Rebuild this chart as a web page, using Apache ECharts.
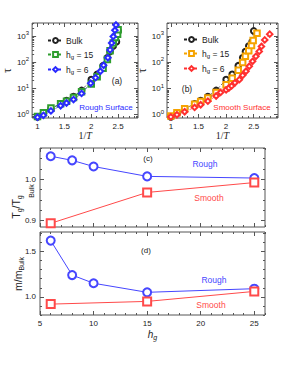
<!DOCTYPE html>
<html><head><meta charset="utf-8">
<script src="https://cdn.jsdelivr.net/npm/echarts@6/dist/echarts.min.js"></script>
<style>html,body{margin:0;padding:0;background:#fff}#c{width:287px;height:366px}</style>
</head><body><div id="c"></div>
<script>
// ---- data ----
const bulkX   = [1.00, 1.11, 1.25, 1.43, 1.54, 1.67, 1.82, 2.00, 2.11, 2.22, 2.30, 2.35, 2.41, 2.47, 2.50];
const bulkTau = [0.82, 1.15, 1.7, 2.6, 3.5, 5.0, 8.5, 22, 35, 75, 150, 260, 420, 620, 1600];
const roughH15X   = [1.00, 1.11, 1.25, 1.43, 1.54, 1.67, 1.82, 2.00, 2.11, 2.22, 2.30, 2.35, 2.41, 2.45, 2.49, 2.50];
const roughH15Tau = [0.85, 1.2, 1.8, 2.6, 3.3, 4.6, 7.5, 15, 28, 60, 130, 280, 550, 900, 1200, 1750];
const roughH6X   = [1.00, 1.11, 1.25, 1.43, 1.54, 1.67, 1.82, 1.99, 2.08, 2.17, 2.23, 2.31, 2.35, 2.38, 2.41, 2.44, 2.46];
const roughH6Tau = [0.8, 0.95, 1.4, 2.2, 2.8, 3.8, 6.5, 16, 26, 46, 78, 150, 300, 550, 980, 1700, 2700];
const smoothH15X   = [1.00, 1.11, 1.25, 1.43, 1.54, 1.67, 1.82, 2.00, 2.11, 2.22, 2.30, 2.35, 2.41, 2.46, 2.49, 2.56];
const smoothH15Tau = [0.9, 1.2, 1.7, 2.5, 3.2, 4.4, 7, 14, 25, 50, 100, 170, 280, 440, 680, 1300];
const smoothH6X   = [1.00, 1.11, 1.25, 1.43, 1.54, 1.67, 1.82, 1.90, 2.00, 2.05, 2.10, 2.16, 2.24, 2.30, 2.36, 2.42, 2.48, 2.54, 2.60, 2.64, 2.70, 2.79];
const smoothH6Tau = [0.83, 1.0, 1.3, 1.9, 2.4, 3.3, 5.2, 7.1, 8.9, 10.5, 12.6, 16.6, 21.9, 32, 46, 71, 110, 170, 263, 407, 724, 1200];

const hgRough = [6, 8, 10, 15, 25];
const hgSmooth = [6, 15, 25];
const tgRough = [1.056, 1.046, 1.031, 1.007, 1.003];
const tgSmooth = [0.893, 0.968, 0.992];
const mRough = [1.62, 1.24, 1.15, 1.05, 1.09];
const mSmooth = [0.92, 0.95, 1.06];

const invTTicks = [1, 1.5, 2, 2.5];
const tauTicks = [1, 10, 100, 1000];
const hgTicks = [5, 10, 15, 20, 25];
const tgTicks = [0.9, 1.0];
const mTicks = [1.0, 1.5];

// ---- helpers ----
const AX = '#555', TXT = '#222', FONT = 'Liberation Sans';
function steps(a, b, s) { const r = []; for (let i = Math.ceil(a / s - 1e-9); i * s <= b + 1e-9; i++) r.push(+(i * s).toFixed(4)); return r; }
function logMinors(min, max) { const r = []; [0.1, 1, 10, 100, 1000].forEach(d => { for (let k = 1; k <= 9; k++) { const v = d * k; if (v >= min && v <= max) r.push(v); } }); return r; }
function pairs(xs, ys) { return xs.map((x, i) => [x, ys[i]]); }

function axes(kind, grid, type, min, max, major, minor, labelOpt, nameOpt) {
  const pA = kind === 'x' ? 'bottom' : 'left', pB = kind === 'x' ? 'top' : 'right';
  const mk = (pos, vals, len, lab, nm) => Object.assign({
    gridIndex: grid, type: type, min: min, max: max, position: pos,
    axisLine: { show: false, onZero: false }, splitLine: { show: false }, minorTick: { show: false },
    axisTick: { show: true, inside: true, length: len, customValues: vals, lineStyle: { color: AX, width: 1 } },
    axisLabel: lab ? Object.assign({ show: true, customValues: major, color: TXT, fontFamily: FONT, fontSize: 8, margin: 4 }, lab) : { show: false, customValues: major }
  }, nm || {});
  return [mk(pA, major, 4, labelOpt, nameOpt), mk(pA, minor, 2, null), mk(pB, major, 4, null), mk(pB, minor, 2, null)];
}

const supFmt = v => '{b|10}{s|' + Math.round(Math.log10(v)) + '}';
const supRich = { b: { fontSize: 8, fontFamily: FONT, color: TXT }, s: { fontSize: 6, fontFamily: FONT, color: TXT, padding: [0, 0, 6, 0] } };
const tauName = { name: 'τ', nameLocation: 'middle', nameGap: 19, nameRotate: 90, nameTextStyle: { fontFamily: 'Liberation Serif', fontSize: 12, color: TXT } };
const invTName = { name: '{n|1/}{i|T}', nameLocation: 'middle', nameGap: 12, nameTextStyle: { rich: { n: { fontFamily: 'Liberation Serif', fontSize: 10, color: TXT }, i: { fontFamily: 'Liberation Serif', fontStyle: 'italic', fontSize: 10, color: TXT } } } };
const hgName = { name: '{i|h}{s|g}', nameLocation: 'middle', nameGap: 13, nameTextStyle: { rich: { i: { fontFamily: FONT, fontStyle: 'italic', fontSize: 10, color: TXT }, s: { fontFamily: FONT, fontStyle: 'italic', fontSize: 7, color: TXT, padding: [6, 0, 0, 0] } } } };

const grids = [
  { left: 29, top: 23, width: 109, height: 95 },
  { left: 167, top: 23, width: 111, height: 95 },
  { left: 40, top: 148, width: 225, height: 79 },
  { left: 40, top: 232, width: 225, height: 83 }
].map(g => Object.assign({ show: true, borderColor: '#555', borderWidth: 1, backgroundColor: 'transparent' }, g));

const numFmt = v => v.toFixed(1);
const hgFmt = v => String(v);

const xAxis = [].concat(
  axes('x', 0, 'value', 0.9, 2.87, invTTicks, steps(0.9, 2.87, 0.1), { formatter: v => String(v) }, invTName),
  axes('x', 1, 'value', 0.93, 2.94, invTTicks, steps(0.93, 2.94, 0.1), { formatter: v => String(v) }, invTName),
  axes('x', 2, 'value', 5, 26, hgTicks, steps(5, 26, 1), null),
  axes('x', 3, 'value', 5, 26, hgTicks, steps(5, 26, 1), { formatter: hgFmt }, hgName)
);
const yAxis = [].concat(
  axes('y', 0, 'log', 0.75, 3200, tauTicks, logMinors(0.75, 3200), { formatter: supFmt, rich: supRich, margin: 3 }, tauName),
  axes('y', 1, 'log', 0.75, 3200, tauTicks, logMinors(0.75, 3200), { formatter: supFmt, rich: supRich, margin: 3 }, tauName),
  axes('y', 2, 'value', 0.884, 1.076, tgTicks, steps(0.884, 1.076, 0.025), { formatter: numFmt }),
  axes('y', 3, 'value', 0.8, 1.715, mTicks, steps(0.8, 1.715, 0.1), { formatter: numFmt })
);

const C = { black: '#222', green: '#2f9e2f', blue: '#2b2bff', orange: '#f5a300', red: '#ff3030', lblue: '#4646ff', lred: '#ff4a4a' };
function tauSeries(name, grid, data, color, symbol) {
  return { type: 'line', name: name, xAxisIndex: grid * 4, yAxisIndex: grid * 4, data: data,
    symbol: symbol, symbolSize: 5.5, lineStyle: { color: color, width: 0.7, type: [3, 2] },
    itemStyle: { color: color, borderColor: color, borderWidth: 0.7 }, z: 3 };
}
function ratioSeries(name, grid, data, color, symbol) {
  return { type: 'line', name: name, xAxisIndex: grid * 4, yAxisIndex: grid * 4, data: data,
    symbol: symbol, symbolSize: 8, lineStyle: { color: color, width: 1 },
    itemStyle: { color: color, borderColor: color, borderWidth: 0.9 }, z: 3 };
}

const series = [
  tauSeries('Bulk', 0, pairs(bulkX, bulkTau), C.black, 'emptyCircle'),
  tauSeries('h15a', 0, pairs(roughH15X, roughH15Tau), C.green, 'emptyRect'),
  tauSeries('h6a', 0, pairs(roughH6X, roughH6Tau), C.blue, 'emptyDiamond'),
  tauSeries('Bulk', 1, pairs(bulkX, bulkTau), C.black, 'emptyCircle'),
  tauSeries('h15b', 1, pairs(smoothH15X, smoothH15Tau), C.orange, 'emptyRect'),
  tauSeries('h6b', 1, pairs(smoothH6X, smoothH6Tau), C.red, 'emptyDiamond'),
  ratioSeries('tgRough', 2, pairs(hgRough, tgRough), C.lblue, 'emptyCircle'),
  ratioSeries('tgSmooth', 2, pairs(hgSmooth, tgSmooth), C.lred, 'emptyRect'),
  ratioSeries('mRough', 3, pairs(hgRough, mRough), C.lblue, 'emptyCircle'),
  ratioSeries('mSmooth', 3, pairs(hgSmooth, mSmooth), C.lred, 'emptyRect')
];

const legNames = { Bulk: 'Bulk', h15a: '{t|h}{s|g}{t| = 15}', h6a: '{t|h}{s|g}{t| = 6}', h15b: '{t|h}{s|g}{t| = 15}', h6b: '{t|h}{s|g}{t| = 6}' };
const legRich = { t: { fontFamily: FONT, fontSize: 8.5, color: TXT }, s: { fontFamily: FONT, fontSize: 6, color: TXT, padding: [5, 0, 0, 0] } };
function legend(left, top, data) {
  return { left: left, top: top, orient: 'vertical', data: data, selectedMode: false, itemWidth: 15, itemHeight: 6, itemGap: 5,
    formatter: n => legNames[n], textStyle: { fontFamily: FONT, fontSize: 8.5, color: TXT, rich: legRich, padding: [0, 0, 0, -2] } };
}

function txt(x, y, text, color, size) {
  return { type: 'text', x: x, y: y, silent: true,
    style: { text: text, fill: color, font: (size || 8) + 'px ' + FONT, align: 'center', verticalAlign: 'middle' } };
}

const graphic = [
  txt(117, 81, '(a)', TXT, 8.5),
  txt(106, 107, 'Rough Surface', C.blue, 8),
  txt(187, 89, '(b)', TXT, 8.5),
  txt(242, 107, 'Smooth Surface', C.red, 8),
  txt(148, 158, '(c)', TXT, 8),
  txt(205, 164, 'Rough', C.lblue, 8.5),
  txt(209, 198, 'Smooth', C.lred, 8.5),
  txt(146, 250, '(d)', TXT, 8),
  txt(214, 280, 'Rough', C.lblue, 8.5),
  txt(211, 305, 'Smooth', C.lred, 8.5),
  { type: 'text', x: 16, y: 207, rotation: Math.PI / 2, silent: true,
    style: { text: '{a|T}{s|g}{a|/T}{s|g}', rich: { a: { fontFamily: FONT, fontSize: 10.5, fill: TXT, color: TXT }, s: { fontFamily: FONT, fontSize: 7, fill: TXT, color: TXT, padding: [6, 0, 0, 0] } }, align: 'center', verticalAlign: 'middle' } },
  { type: 'text', x: 31, y: 191, rotation: Math.PI / 2, silent: true,
    style: { text: 'Bulk', fill: TXT, font: '7px ' + FONT, align: 'center', verticalAlign: 'middle' } },
  { type: 'text', x: 18, y: 274, rotation: Math.PI / 2, silent: true,
    style: { text: '{a|m/m}{s|Bulk}', rich: { a: { fontFamily: FONT, fontSize: 10.5, fill: TXT, color: TXT }, s: { fontFamily: FONT, fontSize: 7, fill: TXT, color: TXT, padding: [7, 0, 0, 0] } }, align: 'center', verticalAlign: 'middle' } }
];

const chart = echarts.init(document.getElementById('c'), null, { renderer: 'svg' });
chart.setOption({
  animation: false,
  backgroundColor: '#fff',
  grid: grids,
  xAxis: xAxis,
  yAxis: yAxis,
  legend: [legend(42, 31, ['Bulk', 'h15a', 'h6a']), legend(178, 30, ['Bulk', 'h15b', 'h6b'])],
  series: series,
  graphic: graphic
});
</script>
</body></html>
